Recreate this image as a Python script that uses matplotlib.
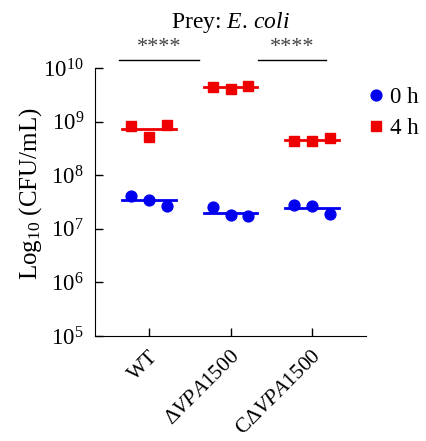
import matplotlib
matplotlib.use("Agg")
import matplotlib.pyplot as plt
import numpy as np

plt.rcParams['font.family'] = 'Liberation Serif'
plt.rcParams['mathtext.fontset'] = 'custom'
plt.rcParams['mathtext.rm'] = 'Liberation Serif'
plt.rcParams['mathtext.it'] = 'Liberation Serif:italic'

strains = ['WT', r'$\Delta\mathit{VPA1500}$', r'C$\Delta\mathit{VPA1500}$']

# log10 CFU/mL, three replicates per strain
log_0h = [[7.61, 7.54, 7.43],
          [7.40, 7.26, 7.24],
          [7.45, 7.43, 7.28]]
log_4h = [[8.92, 8.72, 8.93],
          [9.65, 9.60, 9.66],
          [8.64, 8.63, 8.69]]
mean_0h = [7.53, 7.30, 7.39]
mean_4h = [8.87, 9.64, 8.66]

sig_pairs = [(-0.37, 0.61), (1.34, 2.17)]
sig_text = ['****', '****']

fig = plt.figure(figsize=(4.27, 4.41), dpi=100)
ax = fig.add_axes([95 / 427, 1 - 336 / 441, (366 - 95) / 427, (336 - 68) / 441])

offs = np.array([-0.22, 0.0, 0.22])
for i in range(3):
    x = i + offs
    ax.plot(x, 10 ** np.array(log_0h[i]), 'o', color='#0000ee', ms=7.8, zorder=3,
            label='0 h' if i == 0 else None)
    ax.plot(x, 10 ** np.array(log_4h[i]), 's', color='#ee0000', ms=7.8, zorder=3,
            label='4 h' if i == 0 else None)
    ax.plot([i - 0.33, i + 0.33], [10 ** mean_0h[i]] * 2, color='#0000ee', lw=2, zorder=2)
    ax.plot([i - 0.33, i + 0.33], [10 ** mean_4h[i]] * 2, color='#ee0000', lw=2, zorder=2)

ax.set_yscale('log')
ax.set_ylim(1e5, 1e10)
ax.set_xlim(-0.66, 2.66)
ax.set_yticks([1e5, 1e6, 1e7, 1e8, 1e9, 1e10])
ax.set_yticklabels([r'$10^{%d}$' % k for k in range(5, 11)])
ax.yaxis.set_minor_locator(matplotlib.ticker.NullLocator())
ax.set_xticks([0, 1, 2])
ax.set_xticklabels(strains, rotation=45, ha='right', rotation_mode='anchor')
ax.tick_params(direction='in', length=6, width=1, labelsize=16.5, pad=8)
ax.tick_params(axis='x', labelsize=15.5, pad=8)
ax.spines['top'].set_visible(False)
ax.spines['right'].set_visible(False)
ax.set_ylabel(r'Log$_{10}$ (CFU/mL)', fontsize=18)
ax.yaxis.set_label_coords(-0.19, 0.53)

for (x0, x1), t in zip(sig_pairs, sig_text):
    ax.plot([x0, x1], [10 ** 10.15] * 2, color='black', lw=1, clip_on=False)
    ax.text((x0 + x1) / 2, 10 ** 10.2, t, ha='center', va='bottom', fontsize=16,
            color='#444444')

fig.text(0.541, 0.95, r'Prey: $\mathit{E.}\,\mathit{coli}$', ha='center', va='center',
         fontsize=17)

ax.legend(loc='upper left', bbox_to_anchor=(0.959, 0.965), frameon=False, fontsize=16.5,
          handletextpad=0.15, handlelength=1.0, borderaxespad=0, labelspacing=0.45)

fig.savefig('out.png', dpi=100)
